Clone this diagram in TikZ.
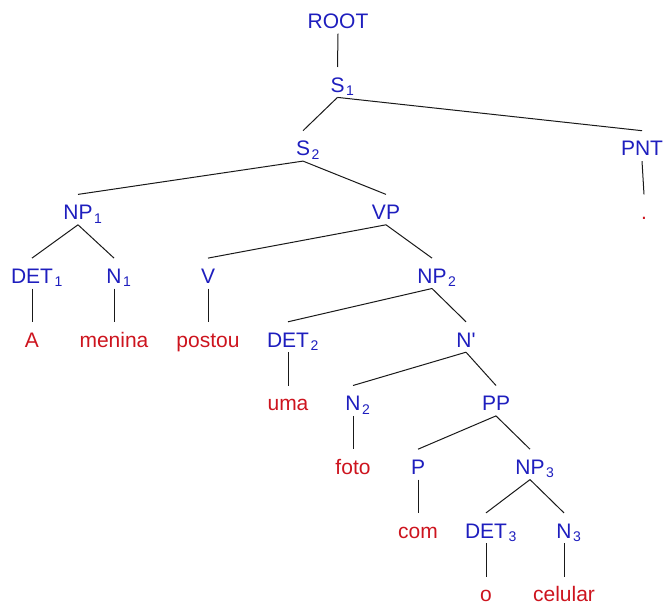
\documentclass[tikz,border=0pt]{standalone}
\usepackage{fontspec}
\setmainfont{Liberation Sans}
\definecolor{catblue}{RGB}{30,30,190}
\definecolor{wordred}{RGB}{205,20,30}
\newcommand{\subidx}[1]{\rlap{\hspace{1.5bp}\raisebox{-3.5bp}{\fontsize{14bp}{14bp}\selectfont #1}}}
\tikzset{
  cat/.style={text=catblue, anchor=base, inner xsep=2bp, inner ysep=5bp, text height=20bp, text depth=0bp},
  word/.style={cat, text=wordred},
}
\begin{document}
\begin{tikzpicture}[x=1bp, y=-1bp, font=\fontsize{21bp}{25bp}\selectfont]
      \useasboundingbox (0,0) rectangle (665,607);
      \draw
        (338,28.5) node[cat] (root){ROOT}
        (337.5,92.2) node[cat] (s1){S\subidx{1}}
        (303,155.9) node[cat] (s2){S\subidx{2}}
        (642,155.9) node[cat] (pnt){PNT}
        (78,219.6) node[cat] (np1){NP\subidx{1}}
        (386,219.6) node[cat] (vp){VP}
        (644,219.6) node[word] (dot){.}
        (32,283.3) node[cat] (det1){DET\subidx{1}}
        (114,283.3) node[cat] (n1){N\subidx{1}}
        (208,283.3) node[cat] (v){V}
        (432,283.3) node[cat] (np2){NP\subidx{2}}
        (32,347) node[word] (a){A}
        (114,347) node[word] (menina){menina}
        (208,347) node[word] (postou){postou}
        (288,347) node[cat] (det2){DET\subidx{2}}
        (466,347) node[cat] (nbar){N\textquotesingle}
        (288,410.7) node[word] (uma){uma}
        (353,410.7) node[cat] (n2){N\subidx{2}}
        (496,410.7) node[cat] (pp){PP}
        (353,474.4) node[word] (foto){foto}
        (418,474.4) node[cat] (p){P}
        (530,474.4) node[cat] (np3){NP\subidx{3}}
        (418,538.1) node[word] (com){com}
        (486,538.1) node[cat] (det3){DET\subidx{3}}
        (564,538.1) node[cat] (n3){N\subidx{3}}
        (486,601.8) node[word] (o){o}
        (564,601.8) node[word] (celular){celular};
      \begin{scope}[-, line width=1bp, black!90]
        \draw (root.south) to (s1.north);
        \draw (s1.south) to (s2.north);
        \draw (s1.south) to (pnt.north);
        \draw (pnt.south) to (dot.north);
        \draw (s2.south) to (np1.north);
        \draw (s2.south) to (vp.north);
        \draw (np1.south) to (det1.north);
        \draw (np1.south) to (n1.north);
        \draw (det1.south) to (a.north);
        \draw (n1.south) to (menina.north);
        \draw (vp.south) to (v.north);
        \draw (vp.south) to (np2.north);
        \draw (v.south) to (postou.north);
        \draw (np2.south) to (det2.north);
        \draw (np2.south) to (nbar.north);
        \draw (det2.south) to (uma.north);
        \draw (nbar.south) to (n2.north);
        \draw (nbar.south) to (pp.north);
        \draw (n2.south) to (foto.north);
        \draw (pp.south) to (p.north);
        \draw (pp.south) to (np3.north);
        \draw (p.south) to (com.north);
        \draw (np3.south) to (det3.north);
        \draw (np3.south) to (n3.north);
        \draw (det3.south) to (o.north);
        \draw (n3.south) to (celular.north);
      \end{scope}
    \end{tikzpicture}
\end{document}
